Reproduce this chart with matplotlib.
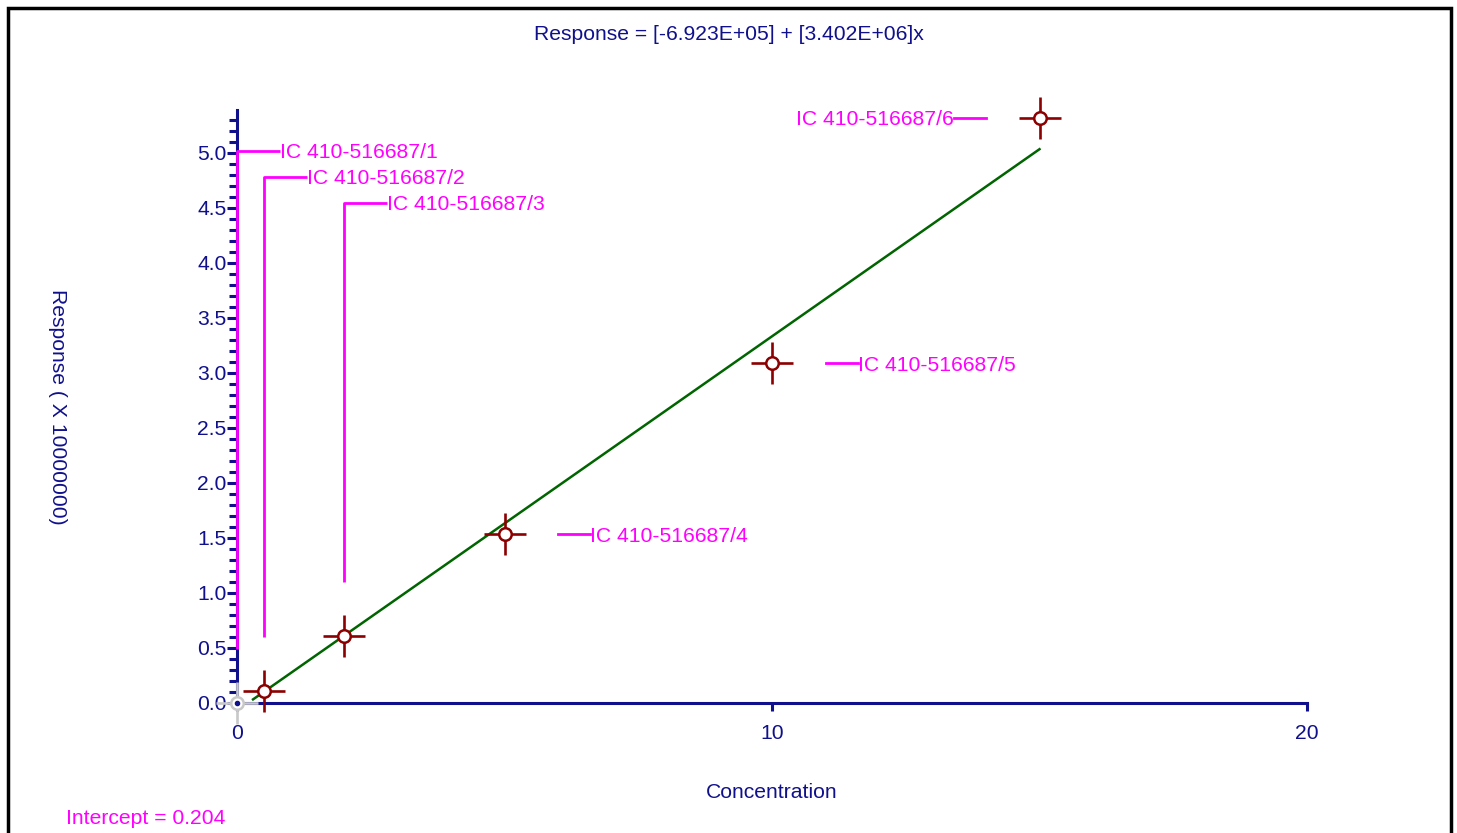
import numpy as np
import matplotlib.pyplot as plt
from matplotlib.patches import Rectangle
from matplotlib.ticker import MultipleLocator

plt.rcParams['font.family'] = ['Liberation Sans', 'DejaVu Sans']

# calibration data (response shown in units of 1e7)
concentration = [0, 0.5, 2, 5, 10, 15]
response = [0.0, 0.109, 0.609, 1.536, 3.09, 5.318]
included = [False, True, True, True, True, True]
sample_names = ['IC 410-516687/1', 'IC 410-516687/2', 'IC 410-516687/3',
                'IC 410-516687/4', 'IC 410-516687/5', 'IC 410-516687/6']

fit_b0 = -6.923e5
fit_b1 = 3.402e6
resp_scale = 1e7
x_intercept = 0.204

navy = '#10108c'
magenta = '#ff00ff'
darkred = '#8b0000'
green = '#006400'
gray = '#c8c8c8'
fs = 15.2

fig = plt.figure(figsize=(14.57, 8.33), dpi=100)
ax = fig.add_axes([237 / 1457, 130 / 833, 1070 / 1457, 593 / 833])
ax.set_xlim(0, 20)
ax.set_ylim(0, 5.39)

for s in ['top', 'right']:
    ax.spines[s].set_visible(False)
for s in ['left', 'bottom']:
    ax.spines[s].set_color(navy)
    ax.spines[s].set_linewidth(2.2)

ax.xaxis.set_major_locator(MultipleLocator(10))
ax.yaxis.set_major_locator(MultipleLocator(0.5))
ax.yaxis.set_minor_locator(MultipleLocator(0.1))
ax.yaxis.set_major_formatter(plt.FuncFormatter(lambda v, p: f'{v:.1f}'))
ax.tick_params(axis='y', which='major', length=7.5, width=2.2, color=navy,
               labelcolor=navy, labelsize=fs, pad=0)
ax.tick_params(axis='y', which='minor', length=5.5, width=2.2, color=navy)
ax.tick_params(axis='x', which='major', length=6, width=2.2, color=navy,
               labelcolor=navy, labelsize=fs, pad=9)

# fitted line
x_fit = np.array([0.3, max(concentration)])
y_fit = (fit_b0 + fit_b1 * x_fit) / resp_scale
ax.plot(x_fit, y_fit, color=green, lw=1.8, zorder=3)

# leader lines and labels
label_top = 5.02
label_step = 0.237
va = 'center_baseline'
for i, (cx, cy, name) in enumerate(zip(concentration, response, sample_names)):
    if i < 3:
        ly = label_top - i * label_step
        tx = cx + 0.8
        ax.plot([cx, cx, tx], [cy + 0.49, ly, ly], color=magenta, lw=2,
                clip_on=False, zorder=4, solid_capstyle='butt')
        ax.text(tx, ly, name, color=magenta, fontsize=fs, va=va, ha='left')
    elif i < 5:
        ax.plot([cx + 1.0, cx + 1.6], [cy, cy], color=magenta, lw=2, zorder=4)
        ax.text(cx + 1.6, cy, name, color=magenta, fontsize=fs, va=va, ha='left')
    else:
        ax.plot([cx - 1.6, cx - 1.0], [cy, cy], color=magenta, lw=2, zorder=4)
        ax.text(cx - 1.6, cy, name, color=magenta, fontsize=fs, va=va, ha='right')

# points
for cx, cy, inc in zip(concentration, response, included):
    c = darkred if inc else gray
    ax.plot(cx, cy, marker='+', ms=30, mew=1.9, color=c, clip_on=False, zorder=6)
    ax.plot(cx, cy, marker='o', ms=9, mew=1.8, mfc='white', mec=c,
            clip_on=False, zorder=7)
    if not inc:
        ax.plot(cx, cy, marker='o', ms=3, color=navy, clip_on=False, zorder=8)

# texts
fig.text(729 / 1457, 1 - 33 / 833, 'Response = [-6.923E+05] + [3.402E+06]x',
         color=navy, fontsize=fs, ha='center', va=va)
fig.text(772 / 1457, 1 - 791 / 833, 'Concentration', color=navy, fontsize=fs,
         ha='center', va=va)
fig.text(57 / 1457, 1 - 407 / 833, 'Response ( X 10000000)', color=navy,
         fontsize=fs, ha='center', va='center', rotation=270)
fig.text(66 / 1457, 1 - 817 / 833, f'Intercept = {x_intercept}', color=magenta,
         fontsize=fs, ha='left', va=va)

# outer frame
fig.patches.append(Rectangle((8 / 1457, -0.1), 1443 / 1457, 1.1 - 8 / 833,
                             transform=fig.transFigure, fill=False,
                             edgecolor='black', lw=2.5))

fig.savefig('out.png', dpi=100)
